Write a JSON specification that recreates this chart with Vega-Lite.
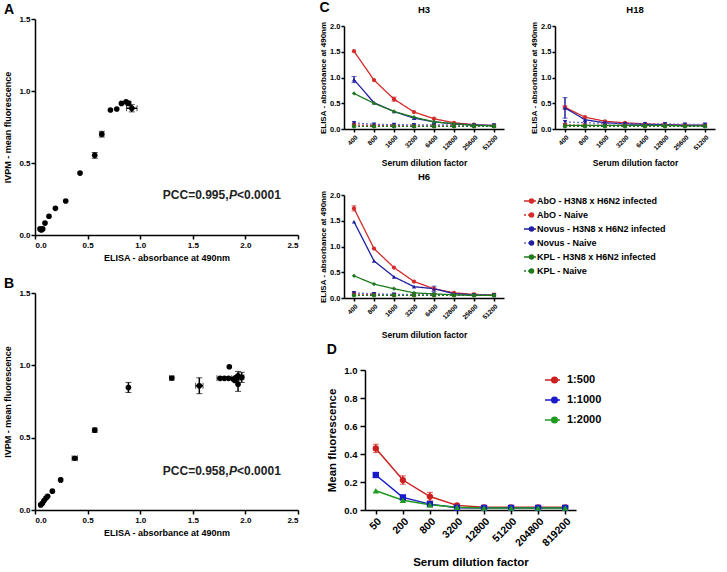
{
  "$schema": "https://vega.github.io/schema/vega-lite/v6.json",
  "padding": {"left": 3, "top": 0, "right": 2, "bottom": 0},
  "background": "white",
  "config": {
    "font": "Liberation Sans",
    "view": {"stroke": null},
    "axis": {"grid": false, "domainColor": "#000", "domainWidth": 1.5, "tickColor": "#000", "tickWidth": 1.5, "labelColor": "#000", "titleColor": "#000", "labelFontWeight": "bold", "titleFontWeight": "bold", "labelFont": "Liberation Sans", "titleFont": "Liberation Sans"},
    "title": {"fontWeight": "bold", "color": "#000", "font": "Liberation Sans"},
    "legend": {"labelFontWeight": "bold", "labelColor": "#000", "labelFont": "Liberation Sans", "padding": 0}
  },
  "datasets": {
    "A": [
      {"x": 0.048, "y": 0.042}, {"x": 0.06, "y": 0.035}, {"x": 0.073, "y": 0.042}, {"x": 0.095, "y": 0.083},
      {"x": 0.133, "y": 0.13}, {"x": 0.194, "y": 0.185}, {"x": 0.292, "y": 0.236}, {"x": 0.428, "y": 0.43},
      {"x": 0.568, "y": 0.553, "ey": 0.02}, {"x": 0.635, "y": 0.7, "ey": 0.02}, {"x": 0.717, "y": 0.868},
      {"x": 0.777, "y": 0.875}, {"x": 0.822, "y": 0.914}, {"x": 0.866, "y": 0.924}, {"x": 0.89, "y": 0.914, "ey": 0.015},
      {"x": 0.92, "y": 0.88, "ex": 0.05, "ey": 0.025}
    ],
    "B": [
      {"x": 0.054, "y": 0.035}, {"x": 0.07, "y": 0.046}, {"x": 0.086, "y": 0.065}, {"x": 0.105, "y": 0.083},
      {"x": 0.12, "y": 0.095}, {"x": 0.165, "y": 0.13}, {"x": 0.244, "y": 0.208, "ex": 0.01},
      {"x": 0.378, "y": 0.358, "ex": 0.025}, {"x": 0.568, "y": 0.552, "ey": 0.015}, {"x": 0.888, "y": 0.847, "ey": 0.035},
      {"x": 1.3, "y": 0.912, "ex": 0.02}, {"x": 1.562, "y": 0.859, "ex": 0.035, "ey": 0.055},
      {"x": 1.76, "y": 0.91}, {"x": 1.8, "y": 0.91, "ex": 0.07}, {"x": 1.84, "y": 0.91}, {"x": 1.847, "y": 0.99},
      {"x": 1.885, "y": 0.905}, {"x": 1.9, "y": 0.895}, {"x": 1.93, "y": 0.928, "ey": 0.03},
      {"x": 1.965, "y": 0.917, "ex": 0.02, "ey": 0.035}, {"x": 1.93, "y": 0.87, "ey": 0.05}, {"x": 1.91, "y": 0.915}
    ],
    "C": [
      {"p": "H3", "s": "AbO - H3N8 x H6N2 infected", "d": 400, "y": 1.51}, {"p": "H3", "s": "AbO - H3N8 x H6N2 infected", "d": 800, "y": 0.95}, {"p": "H3", "s": "AbO - H3N8 x H6N2 infected", "d": 1600, "y": 0.58, "e": 0.04}, {"p": "H3", "s": "AbO - H3N8 x H6N2 infected", "d": 3200, "y": 0.33}, {"p": "H3", "s": "AbO - H3N8 x H6N2 infected", "d": 6400, "y": 0.2}, {"p": "H3", "s": "AbO - H3N8 x H6N2 infected", "d": 12800, "y": 0.12}, {"p": "H3", "s": "AbO - H3N8 x H6N2 infected", "d": 25600, "y": 0.085}, {"p": "H3", "s": "AbO - H3N8 x H6N2 infected", "d": 51200, "y": 0.065},
      {"p": "H3", "s": "AbO - Naive", "d": 400, "y": 0.08}, {"p": "H3", "s": "AbO - Naive", "d": 800, "y": 0.065}, {"p": "H3", "s": "AbO - Naive", "d": 1600, "y": 0.065}, {"p": "H3", "s": "AbO - Naive", "d": 3200, "y": 0.06}, {"p": "H3", "s": "AbO - Naive", "d": 6400, "y": 0.06}, {"p": "H3", "s": "AbO - Naive", "d": 12800, "y": 0.06}, {"p": "H3", "s": "AbO - Naive", "d": 25600, "y": 0.06}, {"p": "H3", "s": "AbO - Naive", "d": 51200, "y": 0.06},
      {"p": "H3", "s": "Novus - H3N8 x H6N2 infected", "d": 400, "y": 0.96, "e": 0.06}, {"p": "H3", "s": "Novus - H3N8 x H6N2 infected", "d": 800, "y": 0.51}, {"p": "H3", "s": "Novus - H3N8 x H6N2 infected", "d": 1600, "y": 0.34}, {"p": "H3", "s": "Novus - H3N8 x H6N2 infected", "d": 3200, "y": 0.21}, {"p": "H3", "s": "Novus - H3N8 x H6N2 infected", "d": 6400, "y": 0.14}, {"p": "H3", "s": "Novus - H3N8 x H6N2 infected", "d": 12800, "y": 0.1}, {"p": "H3", "s": "Novus - H3N8 x H6N2 infected", "d": 25600, "y": 0.08}, {"p": "H3", "s": "Novus - H3N8 x H6N2 infected", "d": 51200, "y": 0.065},
      {"p": "H3", "s": "Novus - Naive", "d": 400, "y": 0.12}, {"p": "H3", "s": "Novus - Naive", "d": 800, "y": 0.09}, {"p": "H3", "s": "Novus - Naive", "d": 1600, "y": 0.085}, {"p": "H3", "s": "Novus - Naive", "d": 3200, "y": 0.08}, {"p": "H3", "s": "Novus - Naive", "d": 6400, "y": 0.08}, {"p": "H3", "s": "Novus - Naive", "d": 12800, "y": 0.08}, {"p": "H3", "s": "Novus - Naive", "d": 25600, "y": 0.075}, {"p": "H3", "s": "Novus - Naive", "d": 51200, "y": 0.075},
      {"p": "H3", "s": "KPL - H3N8 x H6N2 infected", "d": 400, "y": 0.69}, {"p": "H3", "s": "KPL - H3N8 x H6N2 infected", "d": 800, "y": 0.5}, {"p": "H3", "s": "KPL - H3N8 x H6N2 infected", "d": 1600, "y": 0.34}, {"p": "H3", "s": "KPL - H3N8 x H6N2 infected", "d": 3200, "y": 0.23}, {"p": "H3", "s": "KPL - H3N8 x H6N2 infected", "d": 6400, "y": 0.14}, {"p": "H3", "s": "KPL - H3N8 x H6N2 infected", "d": 12800, "y": 0.1}, {"p": "H3", "s": "KPL - H3N8 x H6N2 infected", "d": 25600, "y": 0.07}, {"p": "H3", "s": "KPL - H3N8 x H6N2 infected", "d": 51200, "y": 0.06},
      {"p": "H3", "s": "KPL - Naive", "d": 400, "y": 0.05}, {"p": "H3", "s": "KPL - Naive", "d": 800, "y": 0.05}, {"p": "H3", "s": "KPL - Naive", "d": 1600, "y": 0.05}, {"p": "H3", "s": "KPL - Naive", "d": 3200, "y": 0.05}, {"p": "H3", "s": "KPL - Naive", "d": 6400, "y": 0.05}, {"p": "H3", "s": "KPL - Naive", "d": 12800, "y": 0.05}, {"p": "H3", "s": "KPL - Naive", "d": 25600, "y": 0.05}, {"p": "H3", "s": "KPL - Naive", "d": 51200, "y": 0.05},

      {"p": "H18", "s": "AbO - H3N8 x H6N2 infected", "d": 400, "y": 0.42, "e": 0.03}, {"p": "H18", "s": "AbO - H3N8 x H6N2 infected", "d": 800, "y": 0.23}, {"p": "H18", "s": "AbO - H3N8 x H6N2 infected", "d": 1600, "y": 0.15}, {"p": "H18", "s": "AbO - H3N8 x H6N2 infected", "d": 3200, "y": 0.12}, {"p": "H18", "s": "AbO - H3N8 x H6N2 infected", "d": 6400, "y": 0.1}, {"p": "H18", "s": "AbO - H3N8 x H6N2 infected", "d": 12800, "y": 0.085}, {"p": "H18", "s": "AbO - H3N8 x H6N2 infected", "d": 25600, "y": 0.08}, {"p": "H18", "s": "AbO - H3N8 x H6N2 infected", "d": 51200, "y": 0.07},
      {"p": "H18", "s": "AbO - Naive", "d": 400, "y": 0.08}, {"p": "H18", "s": "AbO - Naive", "d": 800, "y": 0.07}, {"p": "H18", "s": "AbO - Naive", "d": 1600, "y": 0.07}, {"p": "H18", "s": "AbO - Naive", "d": 3200, "y": 0.07}, {"p": "H18", "s": "AbO - Naive", "d": 6400, "y": 0.07}, {"p": "H18", "s": "AbO - Naive", "d": 12800, "y": 0.07}, {"p": "H18", "s": "AbO - Naive", "d": 25600, "y": 0.07}, {"p": "H18", "s": "AbO - Naive", "d": 51200, "y": 0.07},
      {"p": "H18", "s": "Novus - H3N8 x H6N2 infected", "d": 400, "y": 0.41, "e": 0.2}, {"p": "H18", "s": "Novus - H3N8 x H6N2 infected", "d": 800, "y": 0.18}, {"p": "H18", "s": "Novus - H3N8 x H6N2 infected", "d": 1600, "y": 0.12}, {"p": "H18", "s": "Novus - H3N8 x H6N2 infected", "d": 3200, "y": 0.1}, {"p": "H18", "s": "Novus - H3N8 x H6N2 infected", "d": 6400, "y": 0.09}, {"p": "H18", "s": "Novus - H3N8 x H6N2 infected", "d": 12800, "y": 0.08}, {"p": "H18", "s": "Novus - H3N8 x H6N2 infected", "d": 25600, "y": 0.07}, {"p": "H18", "s": "Novus - H3N8 x H6N2 infected", "d": 51200, "y": 0.07},
      {"p": "H18", "s": "Novus - Naive", "d": 400, "y": 0.14}, {"p": "H18", "s": "Novus - Naive", "d": 800, "y": 0.12}, {"p": "H18", "s": "Novus - Naive", "d": 1600, "y": 0.11}, {"p": "H18", "s": "Novus - Naive", "d": 3200, "y": 0.1}, {"p": "H18", "s": "Novus - Naive", "d": 6400, "y": 0.1}, {"p": "H18", "s": "Novus - Naive", "d": 12800, "y": 0.1}, {"p": "H18", "s": "Novus - Naive", "d": 25600, "y": 0.09}, {"p": "H18", "s": "Novus - Naive", "d": 51200, "y": 0.09},
      {"p": "H18", "s": "KPL - H3N8 x H6N2 infected", "d": 400, "y": 0.07}, {"p": "H18", "s": "KPL - H3N8 x H6N2 infected", "d": 800, "y": 0.07}, {"p": "H18", "s": "KPL - H3N8 x H6N2 infected", "d": 1600, "y": 0.07}, {"p": "H18", "s": "KPL - H3N8 x H6N2 infected", "d": 3200, "y": 0.07}, {"p": "H18", "s": "KPL - H3N8 x H6N2 infected", "d": 6400, "y": 0.07}, {"p": "H18", "s": "KPL - H3N8 x H6N2 infected", "d": 12800, "y": 0.07}, {"p": "H18", "s": "KPL - H3N8 x H6N2 infected", "d": 25600, "y": 0.06}, {"p": "H18", "s": "KPL - H3N8 x H6N2 infected", "d": 51200, "y": 0.06},
      {"p": "H18", "s": "KPL - Naive", "d": 400, "y": 0.05}, {"p": "H18", "s": "KPL - Naive", "d": 800, "y": 0.05}, {"p": "H18", "s": "KPL - Naive", "d": 1600, "y": 0.05}, {"p": "H18", "s": "KPL - Naive", "d": 3200, "y": 0.05}, {"p": "H18", "s": "KPL - Naive", "d": 6400, "y": 0.05}, {"p": "H18", "s": "KPL - Naive", "d": 12800, "y": 0.05}, {"p": "H18", "s": "KPL - Naive", "d": 25600, "y": 0.05}, {"p": "H18", "s": "KPL - Naive", "d": 51200, "y": 0.05},

      {"p": "H6", "s": "AbO - H3N8 x H6N2 infected", "d": 400, "y": 1.74, "e": 0.05}, {"p": "H6", "s": "AbO - H3N8 x H6N2 infected", "d": 800, "y": 0.96}, {"p": "H6", "s": "AbO - H3N8 x H6N2 infected", "d": 1600, "y": 0.59}, {"p": "H6", "s": "AbO - H3N8 x H6N2 infected", "d": 3200, "y": 0.32}, {"p": "H6", "s": "AbO - H3N8 x H6N2 infected", "d": 6400, "y": 0.18}, {"p": "H6", "s": "AbO - H3N8 x H6N2 infected", "d": 12800, "y": 0.1}, {"p": "H6", "s": "AbO - H3N8 x H6N2 infected", "d": 25600, "y": 0.07}, {"p": "H6", "s": "AbO - H3N8 x H6N2 infected", "d": 51200, "y": 0.06},
      {"p": "H6", "s": "AbO - Naive", "d": 400, "y": 0.08}, {"p": "H6", "s": "AbO - Naive", "d": 800, "y": 0.07}, {"p": "H6", "s": "AbO - Naive", "d": 1600, "y": 0.06}, {"p": "H6", "s": "AbO - Naive", "d": 3200, "y": 0.06}, {"p": "H6", "s": "AbO - Naive", "d": 6400, "y": 0.06}, {"p": "H6", "s": "AbO - Naive", "d": 12800, "y": 0.06}, {"p": "H6", "s": "AbO - Naive", "d": 25600, "y": 0.06}, {"p": "H6", "s": "AbO - Naive", "d": 51200, "y": 0.06},
      {"p": "H6", "s": "Novus - H3N8 x H6N2 infected", "d": 400, "y": 1.48}, {"p": "H6", "s": "Novus - H3N8 x H6N2 infected", "d": 800, "y": 0.72}, {"p": "H6", "s": "Novus - H3N8 x H6N2 infected", "d": 1600, "y": 0.41}, {"p": "H6", "s": "Novus - H3N8 x H6N2 infected", "d": 3200, "y": 0.22}, {"p": "H6", "s": "Novus - H3N8 x H6N2 infected", "d": 6400, "y": 0.18, "e": 0.05}, {"p": "H6", "s": "Novus - H3N8 x H6N2 infected", "d": 12800, "y": 0.085}, {"p": "H6", "s": "Novus - H3N8 x H6N2 infected", "d": 25600, "y": 0.06}, {"p": "H6", "s": "Novus - H3N8 x H6N2 infected", "d": 51200, "y": 0.05},
      {"p": "H6", "s": "Novus - Naive", "d": 400, "y": 0.1}, {"p": "H6", "s": "Novus - Naive", "d": 800, "y": 0.08}, {"p": "H6", "s": "Novus - Naive", "d": 1600, "y": 0.07}, {"p": "H6", "s": "Novus - Naive", "d": 3200, "y": 0.07}, {"p": "H6", "s": "Novus - Naive", "d": 6400, "y": 0.07}, {"p": "H6", "s": "Novus - Naive", "d": 12800, "y": 0.06}, {"p": "H6", "s": "Novus - Naive", "d": 25600, "y": 0.06}, {"p": "H6", "s": "Novus - Naive", "d": 51200, "y": 0.06},
      {"p": "H6", "s": "KPL - H3N8 x H6N2 infected", "d": 400, "y": 0.43}, {"p": "H6", "s": "KPL - H3N8 x H6N2 infected", "d": 800, "y": 0.27}, {"p": "H6", "s": "KPL - H3N8 x H6N2 infected", "d": 1600, "y": 0.18}, {"p": "H6", "s": "KPL - H3N8 x H6N2 infected", "d": 3200, "y": 0.1}, {"p": "H6", "s": "KPL - H3N8 x H6N2 infected", "d": 6400, "y": 0.08}, {"p": "H6", "s": "KPL - H3N8 x H6N2 infected", "d": 12800, "y": 0.06}, {"p": "H6", "s": "KPL - H3N8 x H6N2 infected", "d": 25600, "y": 0.05}, {"p": "H6", "s": "KPL - H3N8 x H6N2 infected", "d": 51200, "y": 0.05},
      {"p": "H6", "s": "KPL - Naive", "d": 400, "y": 0.05}, {"p": "H6", "s": "KPL - Naive", "d": 800, "y": 0.05}, {"p": "H6", "s": "KPL - Naive", "d": 1600, "y": 0.05}, {"p": "H6", "s": "KPL - Naive", "d": 3200, "y": 0.05}, {"p": "H6", "s": "KPL - Naive", "d": 6400, "y": 0.05}, {"p": "H6", "s": "KPL - Naive", "d": 12800, "y": 0.05}, {"p": "H6", "s": "KPL - Naive", "d": 25600, "y": 0.05}, {"p": "H6", "s": "KPL - Naive", "d": 51200, "y": 0.05}
    ],
    "D": [
      {"s": "1:500", "d": 50, "y": 0.44, "e": 0.03}, {"s": "1:500", "d": 200, "y": 0.214, "e": 0.03}, {"s": "1:500", "d": 800, "y": 0.096, "e": 0.03}, {"s": "1:500", "d": 3200, "y": 0.033}, {"s": "1:500", "d": 12800, "y": 0.019}, {"s": "1:500", "d": 51200, "y": 0.019}, {"s": "1:500", "d": 204800, "y": 0.019}, {"s": "1:500", "d": 819200, "y": 0.019},
      {"s": "1:1000", "d": 50, "y": 0.25, "e": 0.015}, {"s": "1:1000", "d": 200, "y": 0.09}, {"s": "1:1000", "d": 800, "y": 0.042}, {"s": "1:1000", "d": 3200, "y": 0.016}, {"s": "1:1000", "d": 12800, "y": 0.015}, {"s": "1:1000", "d": 51200, "y": 0.015}, {"s": "1:1000", "d": 204800, "y": 0.015}, {"s": "1:1000", "d": 819200, "y": 0.015},
      {"s": "1:2000", "d": 50, "y": 0.137}, {"s": "1:2000", "d": 200, "y": 0.07}, {"s": "1:2000", "d": 800, "y": 0.038}, {"s": "1:2000", "d": 3200, "y": 0.02}, {"s": "1:2000", "d": 12800, "y": 0.015}, {"s": "1:2000", "d": 51200, "y": 0.015}, {"s": "1:2000", "d": 204800, "y": 0.015}, {"s": "1:2000", "d": 819200, "y": 0.015}
    ]
  },
  "hconcat": [
    {
      "spacing": 15,
      "vconcat": [
        {
          "width": 263, "height": 216,
          "title": {"text": "A", "anchor": "start", "frame": "bounds", "fontSize": 14, "offset": -2},
          "data": {"name": "A"},
          "encoding": {
            "x": {"field": "x", "type": "quantitative", "scale": {"domain": [0, 2.5]}, "axis": {"values": [0, 0.5, 1, 1.5, 2, 2.5], "format": ".1f", "title": "ELISA - absorbance at 490nm", "labelFontSize": 8, "titleFontSize": 9, "tickSize": 4, "labelPadding": 2, "titlePadding": 4}},
            "y": {"field": "y", "type": "quantitative", "scale": {"domain": [0, 1.5]}, "axis": {"values": [0, 0.5, 1, 1.5], "format": ".1f", "title": "IVPM - mean fluorescence", "labelFontSize": 8, "titleFontSize": 9, "tickSize": 4, "labelPadding": 1, "titlePadding": 6}}
          },
          "layer": [
            {"transform": [{"filter": "datum.ey > 0"}], "mark": {"type": "errorbar", "color": "black", "ticks": {"size": 6}, "rule": {"strokeWidth": 1.5}}, "encoding": {"yError": {"field": "ey"}}},
            {"transform": [{"filter": "datum.ex > 0"}], "mark": {"type": "errorbar", "color": "black", "ticks": {"size": 6}, "rule": {"strokeWidth": 1.5}}, "encoding": {"xError": {"field": "ex"}}},
            {"mark": {"type": "point", "filled": true, "color": "black", "size": 32, "opacity": 1}},
            {"mark": {"type": "text", "align": "right", "baseline": "middle", "fontSize": 12, "fontWeight": "bold", "color": "#222"}, "encoding": {"x": {"datum": 1.84, "type": "quantitative"}, "y": {"datum": 0.28, "type": "quantitative"}, "text": {"value": "PCC=0.995,"}, "opacity": {"condition": {"test": "datum.x == 0.292", "value": 1}, "value": 0}}},
            {"mark": {"type": "text", "align": "left", "baseline": "middle", "fontSize": 12, "fontWeight": "bold", "fontStyle": "italic", "color": "#222"}, "encoding": {"x": {"datum": 1.845, "type": "quantitative"}, "y": {"datum": 0.28, "type": "quantitative"}, "text": {"value": "P"}, "opacity": {"condition": {"test": "datum.x == 0.292", "value": 1}, "value": 0}}},
            {"mark": {"type": "text", "align": "left", "baseline": "middle", "fontSize": 12, "fontWeight": "bold", "dx": 8, "color": "#222"}, "encoding": {"x": {"datum": 1.845, "type": "quantitative"}, "y": {"datum": 0.28, "type": "quantitative"}, "text": {"value": "<0.0001"}, "opacity": {"condition": {"test": "datum.x == 0.292", "value": 1}, "value": 0}}}
          ]
        },
        {
          "width": 263, "height": 217,
          "title": {"text": "B", "anchor": "start", "frame": "bounds", "fontSize": 14, "offset": -2},
          "data": {"name": "B"},
          "encoding": {
            "x": {"field": "x", "type": "quantitative", "scale": {"domain": [0, 2.5]}, "axis": {"values": [0, 0.5, 1, 1.5, 2, 2.5], "format": ".1f", "title": "ELISA - absorbance at 490nm", "labelFontSize": 8, "titleFontSize": 9, "tickSize": 4, "labelPadding": 2, "titlePadding": 4}},
            "y": {"field": "y", "type": "quantitative", "scale": {"domain": [0, 1.5]}, "axis": {"values": [0, 0.5, 1, 1.5], "format": ".1f", "title": "IVPM - mean fluorescence", "labelFontSize": 8, "titleFontSize": 9, "tickSize": 4, "labelPadding": 1, "titlePadding": 6}}
          },
          "layer": [
            {"transform": [{"filter": "datum.ey > 0"}], "mark": {"type": "errorbar", "color": "black", "ticks": {"size": 6}, "rule": {"strokeWidth": 1.5}}, "encoding": {"yError": {"field": "ey"}}},
            {"transform": [{"filter": "datum.ex > 0"}], "mark": {"type": "errorbar", "color": "black", "ticks": {"size": 6}, "rule": {"strokeWidth": 1.5}}, "encoding": {"xError": {"field": "ex"}}},
            {"mark": {"type": "point", "filled": true, "color": "black", "size": 32, "opacity": 1}},
            {"mark": {"type": "text", "align": "right", "baseline": "middle", "fontSize": 12, "fontWeight": "bold", "color": "#222"}, "encoding": {"x": {"datum": 1.84, "type": "quantitative"}, "y": {"datum": 0.27, "type": "quantitative"}, "text": {"value": "PCC=0.958,"}, "opacity": {"condition": {"test": "datum.x == 0.165", "value": 1}, "value": 0}}},
            {"mark": {"type": "text", "align": "left", "baseline": "middle", "fontSize": 12, "fontWeight": "bold", "fontStyle": "italic", "color": "#222"}, "encoding": {"x": {"datum": 1.845, "type": "quantitative"}, "y": {"datum": 0.27, "type": "quantitative"}, "text": {"value": "P"}, "opacity": {"condition": {"test": "datum.x == 0.165", "value": 1}, "value": 0}}},
            {"mark": {"type": "text", "align": "left", "baseline": "middle", "fontSize": 12, "fontWeight": "bold", "dx": 8, "color": "#222"}, "encoding": {"x": {"datum": 1.845, "type": "quantitative"}, "y": {"datum": 0.27, "type": "quantitative"}, "text": {"value": "<0.0001"}, "opacity": {"condition": {"test": "datum.x == 0.165", "value": 1}, "value": 0}}}
          ]
        }
      ]
    },
    {
      "bounds": "flush",
      "spacing": 0,
      "resolve": {
        "scale": {"color": "independent", "fill": "independent", "stroke": "independent", "shape": "independent", "strokeDash": "independent"},
        "legend": {"color": "independent", "fill": "independent", "stroke": "independent", "shape": "independent", "strokeDash": "independent"}
      },
      "vconcat": [
        {"width": 10, "height": 7, "data": {"values": []}, "mark": "point"},
        {
          "spacing": 4,
          "resolve": {
            "scale": {"color": "independent", "fill": "independent", "stroke": "independent", "shape": "independent", "strokeDash": "independent"},
            "legend": {"color": "independent", "fill": "independent", "stroke": "independent", "shape": "independent", "strokeDash": "independent"}
          },
          "vconcat": [
            {
              "title": {"text": "C", "anchor": "start", "fontSize": 14, "offset": -10},
              "spacing": 26,
              "resolve": {
                "scale": {"color": "independent", "fill": "independent", "stroke": "independent", "shape": "independent", "strokeDash": "independent"},
                "legend": {"color": "independent", "fill": "independent", "stroke": "independent", "shape": "independent", "strokeDash": "independent"}
              },
              "hconcat": [
                {
                  "width": 160, "height": 103,
                  "title": {"text": "H3", "fontSize": 9.5, "offset": 7},
                  "data": {"name": "C"},
                  "transform": [{"filter": "datum.p == 'H3'"}],
                  "encoding": {
                    "x": {"field": "d", "type": "ordinal", "scale": {"type": "point", "padding": 0.5}, "axis": {"labelAngle": -45, "labelFontSize": 6.5, "titleFontSize": 8.5, "tickSize": 3, "labelPadding": 2, "title": "Serum dilution factor", "titlePadding": 7}},
                    "y": {"field": "y", "type": "quantitative", "scale": {"domain": [0, 2]}, "axis": {"values": [0, 0.5, 1, 1.5, 2], "format": ".1f", "labelFontSize": 7.5, "titleFontSize": 8, "tickSize": 3, "labelPadding": 1, "titlePadding": 2, "title": "ELISA - absorbance at 490nm"}}
                  },
                  "layer": [
                    {"mark": {"type": "line", "strokeWidth": 1.3}, "encoding": {
                      "stroke": {"field": "s", "scale": {"domain": ["AbO - H3N8 x H6N2 infected", "AbO - Naive", "Novus - H3N8 x H6N2 infected", "Novus - Naive", "KPL - H3N8 x H6N2 infected", "KPL - Naive"], "range": ["#d42a2a", "#d42a2a", "#1f1fa0", "#6a6ad0", "#1f7a1f", "#1f7a1f"]}, "legend": null},
                      "strokeDash": {"field": "s", "scale": {"domain": ["AbO - H3N8 x H6N2 infected", "AbO - Naive", "Novus - H3N8 x H6N2 infected", "Novus - Naive", "KPL - H3N8 x H6N2 infected", "KPL - Naive"], "range": [[1, 0], [2, 2], [1, 0], [2, 2], [1, 0], [2, 2]]}, "legend": null}}},
                    {"transform": [{"filter": "datum.e > 0"}], "mark": {"type": "errorbar", "ticks": {"size": 5}, "rule": {"strokeWidth": 1.5}}, "encoding": {"yError": {"field": "e"}, "color": {"field": "s", "scale": {"domain": ["AbO - H3N8 x H6N2 infected", "AbO - Naive", "Novus - H3N8 x H6N2 infected", "Novus - Naive", "KPL - H3N8 x H6N2 infected", "KPL - Naive"], "range": ["#d42a2a", "#d42a2a", "#1f1fa0", "#1f1fa0", "#1f7a1f", "#1f7a1f"]}, "legend": null}}},
                    {"mark": {"type": "point", "filled": true, "size": 18, "opacity": 1}, "encoding": {
                      "fill": {"field": "s", "scale": {"domain": ["AbO - H3N8 x H6N2 infected", "AbO - Naive", "Novus - H3N8 x H6N2 infected", "Novus - Naive", "KPL - H3N8 x H6N2 infected", "KPL - Naive"], "range": ["#d42a2a", "#d42a2a", "#1f1fa0", "#1f1fa0", "#1f7a1f", "#1f7a1f"]}, "legend": null},
                      "shape": {"field": "s", "scale": {"domain": ["AbO - H3N8 x H6N2 infected", "AbO - Naive", "Novus - H3N8 x H6N2 infected", "Novus - Naive", "KPL - H3N8 x H6N2 infected", "KPL - Naive"], "range": ["circle", "square", "triangle-up", "triangle-down", "diamond", "circle"]}, "legend": null}}}
                  ]
                },
                {
                  "width": 160, "height": 103,
                  "title": {"text": "H18", "fontSize": 9.5, "offset": 7},
                  "data": {"name": "C"},
                  "transform": [{"filter": "datum.p == 'H18'"}],
                  "encoding": {
                    "x": {"field": "d", "type": "ordinal", "scale": {"type": "point", "padding": 0.5}, "axis": {"labelAngle": -45, "labelFontSize": 6.5, "titleFontSize": 8.5, "tickSize": 3, "labelPadding": 2, "title": "Serum dilution factor", "titlePadding": 7}},
                    "y": {"field": "y", "type": "quantitative", "scale": {"domain": [0, 2]}, "axis": {"values": [0, 0.5, 1, 1.5, 2], "format": ".1f", "labelFontSize": 7.5, "titleFontSize": 8, "tickSize": 3, "labelPadding": 1, "titlePadding": 2, "title": "ELISA - absorbance at 490nm"}}
                  },
                  "layer": [
                    {"mark": {"type": "line", "strokeWidth": 1.3}, "encoding": {
                      "stroke": {"field": "s", "scale": {"domain": ["AbO - H3N8 x H6N2 infected", "AbO - Naive", "Novus - H3N8 x H6N2 infected", "Novus - Naive", "KPL - H3N8 x H6N2 infected", "KPL - Naive"], "range": ["#d42a2a", "#d42a2a", "#1f1fa0", "#6a6ad0", "#1f7a1f", "#1f7a1f"]}, "legend": null},
                      "strokeDash": {"field": "s", "scale": {"domain": ["AbO - H3N8 x H6N2 infected", "AbO - Naive", "Novus - H3N8 x H6N2 infected", "Novus - Naive", "KPL - H3N8 x H6N2 infected", "KPL - Naive"], "range": [[1, 0], [2, 2], [1, 0], [2, 2], [1, 0], [2, 2]]}, "legend": null}}},
                    {"transform": [{"filter": "datum.e > 0"}], "mark": {"type": "errorbar", "ticks": {"size": 5}, "rule": {"strokeWidth": 1.5}}, "encoding": {"yError": {"field": "e"}, "color": {"field": "s", "scale": {"domain": ["AbO - H3N8 x H6N2 infected", "AbO - Naive", "Novus - H3N8 x H6N2 infected", "Novus - Naive", "KPL - H3N8 x H6N2 infected", "KPL - Naive"], "range": ["#d42a2a", "#d42a2a", "#1f1fa0", "#1f1fa0", "#1f7a1f", "#1f7a1f"]}, "legend": null}}},
                    {"mark": {"type": "point", "filled": true, "size": 18, "opacity": 1}, "encoding": {
                      "fill": {"field": "s", "scale": {"domain": ["AbO - H3N8 x H6N2 infected", "AbO - Naive", "Novus - H3N8 x H6N2 infected", "Novus - Naive", "KPL - H3N8 x H6N2 infected", "KPL - Naive"], "range": ["#d42a2a", "#d42a2a", "#1f1fa0", "#1f1fa0", "#1f7a1f", "#1f7a1f"]}, "legend": null},
                      "shape": {"field": "s", "scale": {"domain": ["AbO - H3N8 x H6N2 infected", "AbO - Naive", "Novus - H3N8 x H6N2 infected", "Novus - Naive", "KPL - H3N8 x H6N2 infected", "KPL - Naive"], "range": ["circle", "square", "triangle-up", "triangle-down", "diamond", "circle"]}, "legend": null}}}
                  ]
                }
              ]
            },
            {
              "width": 160, "height": 103,
              "title": {"text": "H6", "fontSize": 9.5, "offset": 9},
              "data": {"name": "C"},
              "transform": [{"filter": "datum.p == 'H6'"}],
              "encoding": {
                "x": {"field": "d", "type": "ordinal", "scale": {"type": "point", "padding": 0.5}, "axis": {"labelAngle": -45, "labelFontSize": 6.5, "titleFontSize": 8.5, "tickSize": 3, "labelPadding": 2, "title": "Serum dilution factor", "titlePadding": 10}},
                "y": {"field": "y", "type": "quantitative", "scale": {"domain": [0, 2]}, "axis": {"values": [0, 0.5, 1, 1.5, 2], "format": ".1f", "labelFontSize": 7.5, "titleFontSize": 8, "tickSize": 3, "labelPadding": 1, "titlePadding": 2, "title": "ELISA - absorbance at 490nm"}}
              },
              "layer": [
                {"mark": {"type": "line", "strokeWidth": 1.3}, "encoding": {
                  "stroke": {"field": "s", "sort": null, "scale": {"range": ["#d42a2a", "#d42a2a", "#1f1fa0", "#6a6ad0", "#1f7a1f", "#1f7a1f"]}, "legend": {"orient": "none", "legendX": 179, "legendY": -1, "title": null, "symbolSize": 144, "symbolStrokeWidth": 1.5, "labelFontSize": 9, "clipHeight": 14, "rowPadding": 0, "labelOffset": 0}},
                  "strokeDash": {"field": "s", "sort": null, "scale": {"range": [[1, 0], [2, 2], [1, 0], [2, 2], [1, 0], [2, 2]]}, "legend": {"orient": "none", "legendX": 179, "legendY": -1, "title": null, "symbolSize": 144, "symbolStrokeWidth": 1.5, "labelFontSize": 9, "clipHeight": 14, "rowPadding": 0, "labelOffset": 0}}}},
                {"transform": [{"filter": "datum.e > 0"}], "mark": {"type": "errorbar", "ticks": {"size": 5}, "rule": {"strokeWidth": 1.5}}, "encoding": {"yError": {"field": "e"}, "color": {"field": "s", "scale": {"domain": ["AbO - H3N8 x H6N2 infected", "AbO - Naive", "Novus - H3N8 x H6N2 infected", "Novus - Naive", "KPL - H3N8 x H6N2 infected", "KPL - Naive"], "range": ["#d42a2a", "#d42a2a", "#1f1fa0", "#1f1fa0", "#1f7a1f", "#1f7a1f"]}, "legend": null}}},
                {"mark": {"type": "point", "filled": true, "size": 18, "opacity": 1}, "encoding": {
                  "fill": {"field": "s", "sort": ["AbO - H3N8 x H6N2 infected", "AbO - Naive", "Novus - H3N8 x H6N2 infected", "Novus - Naive", "KPL - H3N8 x H6N2 infected", "KPL - Naive"], "scale": {"range": ["#d42a2a", "#d42a2a", "#1f1fa0", "#1f1fa0", "#1f7a1f", "#1f7a1f"]}, "legend": {"orient": "none", "legendX": 183, "legendY": -1, "title": null, "symbolSize": 30, "symbolStrokeWidth": 0, "labelFontSize": 9, "clipHeight": 14, "rowPadding": 0, "labelOpacity": 0, "labelExpr": "''", "encode": {"symbols": {"update": {"shape": {"signal": "datum.value == 'AbO - Naive' ? 'square' : datum.value == 'Novus - H3N8 x H6N2 infected' ? 'triangle-up' : datum.value == 'Novus - Naive' ? 'triangle-down' : datum.value == 'KPL - H3N8 x H6N2 infected' ? 'diamond' : 'circle'"}}}}}},
                  "shape": {"field": "s", "sort": ["AbO - H3N8 x H6N2 infected", "AbO - Naive", "Novus - H3N8 x H6N2 infected", "Novus - Naive", "KPL - H3N8 x H6N2 infected", "KPL - Naive"], "scale": {"range": ["circle", "square", "triangle-up", "triangle-down", "diamond", "circle"]}, "legend": null}}}
              ]
            },
            {
              "bounds": "flush",
              "spacing": 0,
              "resolve": {
                "scale": {"color": "independent", "fill": "independent", "stroke": "independent", "shape": "independent", "strokeDash": "independent"},
                "legend": {"color": "independent", "fill": "independent", "stroke": "independent", "shape": "independent", "strokeDash": "independent"}
              },
              "hconcat": [
                {"width": 21, "height": 140, "data": {"values": []}, "mark": "point"},
                {
                  "width": 211, "height": 140,
                  "title": {"text": "D", "anchor": "start", "frame": "bounds", "fontSize": 14, "offset": 8},
                  "data": {"name": "D"},
                  "encoding": {
                    "x": {"field": "d", "type": "ordinal", "scale": {"type": "point", "padding": 0.4}, "axis": {"labelAngle": -45, "labelFontSize": 10.5, "titleFontSize": 11.5, "tickSize": 4, "labelPadding": 2, "title": "Serum dilution factor", "titlePadding": 8}},
                    "y": {"field": "y", "type": "quantitative", "scale": {"domain": [0, 1]}, "axis": {"values": [0, 0.2, 0.4, 0.6, 0.8, 1], "format": ".1f", "labelFontSize": 9.5, "titleFontSize": 11.5, "tickSize": 5, "labelPadding": 3, "titlePadding": 6, "title": "Mean fluorescence"}}
                  },
                  "layer": [
                    {"mark": {"type": "line", "strokeWidth": 1.5}, "encoding": {
                      "stroke": {"field": "s", "sort": null, "scale": {"range": ["#cc1f1f", "#1a1acc", "#1f9a1f"]}, "legend": {"orient": "none", "legendX": 179, "legendY": 0, "title": null, "symbolSize": 225, "symbolStrokeWidth": 1.5, "labelFontSize": 11, "clipHeight": 20, "rowPadding": 0, "labelOffset": 6}}}},
                    {"transform": [{"filter": "datum.e > 0"}], "mark": {"type": "errorbar", "ticks": {"size": 6}, "rule": {"strokeWidth": 1.5}}, "encoding": {"yError": {"field": "e"}, "color": {"field": "s", "scale": {"domain": ["1:500", "1:1000", "1:2000"], "range": ["#cc1f1f", "#1a1acc", "#1f9a1f"]}, "legend": null}}},
                    {"mark": {"type": "point", "filled": true, "size": 40, "opacity": 1}, "encoding": {
                      "fill": {"field": "s", "sort": ["1:500", "1:1000", "1:2000"], "scale": {"range": ["#cc1f1f", "#1a1acc", "#1f9a1f"]}, "legend": {"orient": "none", "legendX": 184, "legendY": 0, "title": null, "symbolSize": 50, "symbolStrokeWidth": 0, "labelFontSize": 11, "clipHeight": 20, "rowPadding": 0, "labelOpacity": 0, "labelExpr": "''", "encode": {"symbols": {"update": {"shape": {"signal": "datum.value == '1:1000' ? 'square' : datum.value == '1:2000' ? 'triangle-up' : 'circle'"}}}}}},
                      "shape": {"field": "s", "sort": ["1:500", "1:1000", "1:2000"], "scale": {"range": ["circle", "square", "triangle-up"]}, "legend": null}}}
                  ]
                }
              ]
            }
          ]
        }
      ]
    }
  ],
  "spacing": 20
}
